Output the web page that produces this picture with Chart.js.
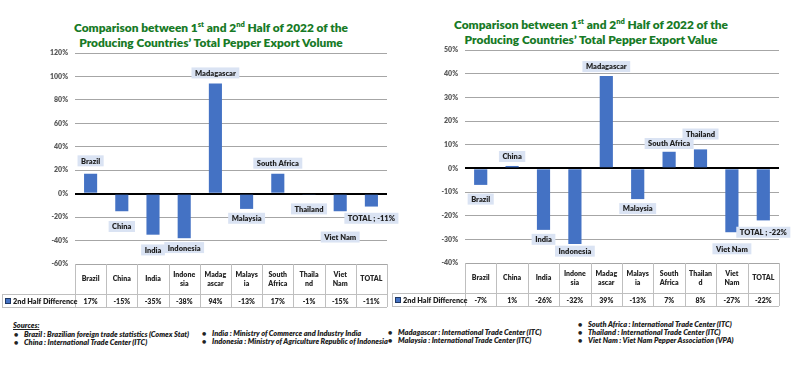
<!DOCTYPE html>
<html>
<head>
<meta charset="utf-8">
<script src="https://cdn.jsdelivr.net/npm/chart.js@4.4.1/dist/chart.umd.min.js"></script>
<style>
  html, body { margin: 0; padding: 0; background: #fff; }
  #page { position: relative; width: 800px; height: 388px; overflow: hidden; font-family: Lato, 'Open Sans', sans-serif; }
  canvas { position: absolute; top: 0; }
  #volChart { left: 0; }
  #valChart { left: 390px; }
  .title { position: absolute; text-align: center; color: #177a26; font-weight: 800; font-size: 11.9px; line-height: 15px; white-space: nowrap; }
  .title sup { font-size: 7.5px; line-height: 0; }
  #volTitle { left: 0; width: 422px; top: 20px; }
  #valTitle { left: 390px; width: 402px; top: 17px; }
  .sources { position: absolute; font-size: 7.4px; font-weight: 800; font-style: italic; color: #222; line-height: 8px; white-space: nowrap; }
  .sources ul { margin: 0; padding: 0; list-style: none; }
  .sources li { position: relative; padding-left: 10px; }
  .sources li::before { content: '\2022'; position: absolute; left: 0; font-style: normal; }
  #srcHead { left: 13px; top: 322px; text-decoration: underline; }
</style>
</head>
<body>
<div id="page">
  <div class="title" id="volTitle">Comparison between 1<sup>st</sup> and 2<sup>nd</sup> Half of 2022 of the<br>Producing Countries’ Total Pepper Export Volume</div>
  <div class="title" id="valTitle">Comparison between 1<sup>st</sup> and 2<sup>nd</sup> Half of 2022 of the<br>Producing Countries’ Total Pepper Export Value</div>
  <canvas id="volChart" width="400" height="310"></canvas>
  <canvas id="valChart" width="410" height="310"></canvas>
  <div class="sources" id="srcHead">Sources:</div>
  <div class="sources" style="left:14px; top:331px"><ul>
    <li>Brazil : Brazilian foreign trade statistics (Comex Stat)</li>
    <li>China : International Trade Center (ITC)</li></ul></div>
  <div class="sources" style="left:202px; top:330px"><ul>
    <li>India : Ministry of Commerce and Industry India</li>
    <li>Indonesia : Ministry of Agriculture Republic of Indonesia</li></ul></div>
  <div class="sources" style="left:388px; top:329px"><ul>
    <li>Madagascar : International Trade Center (ITC)</li>
    <li>Malaysia : International Trade Center (ITC)</li></ul></div>
  <div class="sources" style="left:578px; top:321px"><ul>
    <li>South Africa : International Trade Center (ITC)</li>
    <li>Thailand : International Trade Center (ITC)</li>
    <li>Viet Nam : Viet Nam Pepper Association (VPA)</li></ul></div>
</div>
<script>
const countries = ['Brazil', 'China', 'India', 'Indonesia', 'Madagascar', 'Malaysia', 'South Africa', 'Thailand', 'Viet Nam', 'TOTAL'];
const volHeaders = [['Brazil'], ['China'], ['India'], ['Indone', 'sia'], ['Madag', 'ascar'], ['Malays', 'ia'], ['South', 'Africa'], ['Thaila', 'nd'], ['Viet', 'Nam'], ['TOTAL']];
const valHeaders = [['Brazil'], ['China'], ['India'], ['Indone', 'sia'], ['Madag', 'ascar'], ['Malays', 'ia'], ['South', 'Africa'], ['Thailan', 'd'], ['Viet', 'Nam'], ['TOTAL']];
const volumeDiff = [17, -15, -35, -38, 94, -13, 17, -1, -15, -11];
const valueDiff = [-7, 1, -26, -32, 39, -13, 7, 8, -27, -22];
const seriesName = '2nd Half Difference';
const volTicks = { min: -60, max: 120, step: 20 };
const valTicks = { min: -40, max: 50, step: 10 };

// where the callout boxes sit (in axis units), as moved by hand in the original
const volLabelAt = [28, -28, -48, -46, 103, -21, 26, -13, -37, -21];
const valLabelAt = [-13, 5, -30, -35, 43, -17, 10.5, 14.5, -34, -27];

const FONT = 'Lato, "Open Sans", sans-serif';
const BLUE = '#4472c4';

const calloutPlugin = {
  id: 'callouts',
  afterDatasetsDraw(chart, args, opts) {
    const { ctx } = chart;
    const meta = chart.getDatasetMeta(0);
    const y = chart.scales.y;
    ctx.save();
    ctx.font = '800 7.5px ' + FONT;
    ctx.textAlign = 'center';
    ctx.textBaseline = 'middle';
    meta.data.forEach((bar, i) => {
      let text = countries[i];
      if (text === 'TOTAL') text = 'TOTAL ; ' + chart.data.datasets[0].data[i] + '%';
      const w = ctx.measureText(text).width + 7;
      const cy = y.getPixelForValue(opts.at[i]);
      ctx.fillStyle = '#dae3f3';
      ctx.fillRect(bar.x - w / 2, cy - 5.5, w, 11);
      ctx.fillStyle = '#1f1f1f';
      ctx.fillText(text, bar.x, cy + 0.5);
    });
    ctx.restore();
  }
};

const tablePlugin = {
  id: 'dataTable',
  afterDraw(chart, args, opts) {
    const { ctx, chartArea } = chart;
    const x = chart.scales.x;
    const n = countries.length;
    const colW = (chartArea.right - chartArea.left) / n;
    const top = chartArea.bottom;
    const mid = top + 30;
    const bot = mid + 13;
    ctx.save();
    ctx.strokeStyle = '#bfbfbf';
    ctx.lineWidth = 1;
    ctx.beginPath();
    ctx.moveTo(chartArea.left, mid + 0.5); ctx.lineTo(chartArea.right, mid + 0.5);
    ctx.moveTo(opts.labelLeft, bot + 0.5); ctx.lineTo(chartArea.right, bot + 0.5);
    ctx.moveTo(opts.labelLeft, mid + 0.5); ctx.lineTo(chartArea.left, mid + 0.5);
    ctx.moveTo(opts.labelLeft + 0.5, mid); ctx.lineTo(opts.labelLeft + 0.5, bot);
    for (let i = 0; i <= n; i++) {
      const xx = Math.round(chartArea.left + i * colW) + 0.5;
      ctx.moveTo(xx, top); ctx.lineTo(xx, bot);
    }
    ctx.stroke();

    ctx.fillStyle = '#262626';
    ctx.font = '800 7px ' + FONT;
    ctx.textAlign = 'center';
    ctx.textBaseline = 'middle';
    opts.headers.forEach((lines, i) => {
      const cx = x.getPixelForValue(i);
      const cy = top + 15;
      lines.forEach((ln, k) => ctx.fillText(ln, cx, cy + (k - (lines.length - 1) / 2) * 9));
      ctx.fillText(chart.data.datasets[0].data[i] + '%', cx, mid + 7.5);
    });

    // legend key + series name
    ctx.fillStyle = BLUE;
    ctx.fillRect(opts.labelLeft + 3, mid + 4, 5, 5);
    ctx.strokeStyle = '#1f3864';
    ctx.strokeRect(opts.labelLeft + 3.5, mid + 4.5, 5, 5);
    ctx.fillStyle = '#1f1f1f';
    ctx.textAlign = 'left';
    ctx.font = '800 7.3px ' + FONT;
    ctx.fillText(chart.data.datasets[0].label, opts.labelLeft + 11, mid + 7.5);
    ctx.restore();
  }
};

function buildChart(id, values, ticks, labelAt, headers, padding) {
  return new Chart(document.getElementById(id), {
    type: 'bar',
    data: {
      labels: countries,
      datasets: [{
        label: seriesName,
        data: values,
        backgroundColor: BLUE,
        barPercentage: 0.42,
        categoryPercentage: 1
      }]
    },
    options: {
      responsive: false,
      animation: false,
      devicePixelRatio: 1,
      layout: { padding },
      plugins: {
        legend: { display: false },
        tooltip: { enabled: false },
        callouts: { at: labelAt },
        dataTable: { headers, labelLeft: 2 }
      },
      scales: {
        x: { display: false },
        y: {
          min: ticks.min,
          max: ticks.max,
          afterFit: s => { s.width = 75; },
          border: { display: false },
          grid: {
            drawTicks: false,
            color: c => c.tick.value === 0 ? '#000' : '#a6a6a6',
            lineWidth: c => c.tick.value === 0 ? 2 : 1
          },
          ticks: {
            stepSize: ticks.step,
            padding: 7,
            color: '#595959',
            font: { family: FONT, size: 7, weight: 800 },
            callback: v => v + '%'
          }
        }
      }
    },
    plugins: [calloutPlugin, tablePlugin]
  });
}

buildChart('volChart', volumeDiff, volTicks, volLabelAt, volHeaders, { left: 0, right: 13, top: 53, bottom: 46 });
buildChart('valChart', valueDiff, valTicks, valLabelAt, valHeaders, { left: 0, right: 21, top: 50, bottom: 47 });
</script>
</body>
</html>
